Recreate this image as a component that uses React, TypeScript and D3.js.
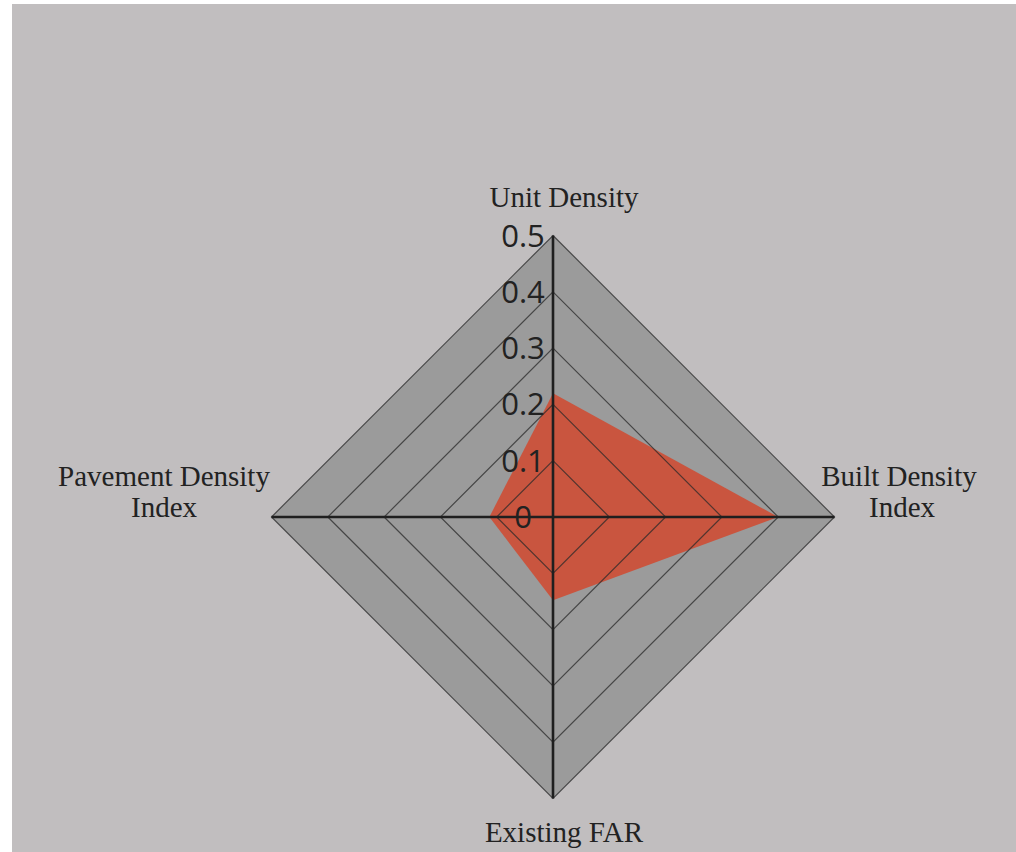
import React from "react";
import * as d3 from "d3";

const axesLabels: string[][] = [["Unit Density"], ["Built Density", "Index"], ["Existing FAR"], ["Pavement Density", "Index"]];
const values: number[] = [0.22, 0.4, 0.148, 0.113];
const ticks: number[] = [0, 0.1, 0.2, 0.3, 0.4, 0.5];
const tickLabels: string[] = ["0", "0.1", "0.2", "0.3", "0.4", "0.5"];

const W = 1016;
const H = 852;
const cx = 553;
const cy = 517;
const R = 281.5;

export default function App() {
  const r = d3.scaleLinear().domain([0, 0.5]).range([0, R]);
  const n = axesLabels.length;
  const angle = (i: number) => (i / n) * 2 * Math.PI;
  const pt = (i: number, v: number): [number, number] => [
    cx + Math.sin(angle(i)) * r(v),
    cy - Math.cos(angle(i)) * r(v),
  ];
  const line = d3.line<[number, number]>().curve(d3.curveLinearClosed);
  const ring = (v: number) => line(d3.range(n).map((i) => pt(i, v))) as string;
  const dataPath = line(values.map((v, i) => pt(i, v))) as string;

  const labelPos: { x: number; y: number }[] = [
    { x: 564, y: 207 },
    { x: 899, y: 486 },
    { x: 564, y: 842 },
    { x: 164, y: 486 },
  ];

  return (
    <svg width={W} height={H} style={{ position: "absolute", left: 0, top: 0 }}>
      <rect x={0} y={0} width={W} height={H} fill="#ffffff" />
      <rect x={12} y={4} width={W - 12} height={H - 4} fill="#C1BEBF" />
      <path d={ring(0.5)} fill="#9B9B9B" stroke="none" />
      <path d={dataPath} fill="#C9553F" stroke="none" />
      {ticks.slice(1).map((t) => (
        <path key={t} d={ring(t)} fill="none" stroke="#2a2a2a" strokeOpacity={0.75} strokeWidth={1.2} />
      ))}
      {d3.range(n).map((i) => {
        const [x, y] = pt(i, 0.5);
        return <line key={i} x1={cx} y1={cy} x2={x} y2={y} stroke="#1f1f1f" strokeWidth={2.6} />;
      })}
      {ticks.map((t, i) => (
        <text
          key={t}
          x={cx - 30}
          y={cy - r(t) + 11}
          textAnchor="middle"
          fontFamily="'Open Sans', sans-serif"
          fontSize={31}
          fill="#222"
        >
          {tickLabels[i]}
        </text>
      ))}
      {axesLabels.map((lines, i) => (
        <text
          key={i}
          textAnchor="middle"
          fontFamily="'Liberation Serif', serif"
          fontSize={29}
          fill="#222"
        >
          {lines.map((l, j) => (
            <tspan key={j} x={labelPos[i].x + (j > 0 && i === 1 ? 3 : 0)} y={labelPos[i].y + j * 31}>
              {l}
            </tspan>
          ))}
        </text>
      ))}
    </svg>
  );
}
